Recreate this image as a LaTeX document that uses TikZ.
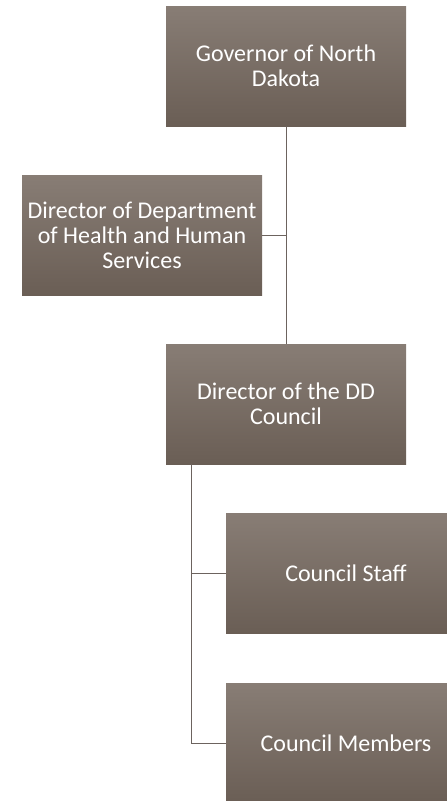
\documentclass[tikz,border=0pt]{standalone}
\usepackage{tikz}
\usepackage{fontspec}
\setmainfont{Carlito}
\usepackage{xcolor}
\definecolor{boxTop}{RGB}{136,125,117}
\definecolor{boxBottom}{RGB}{106,94,85}
\definecolor{linkGray}{RGB}{108,99,94}

\begin{document}
\begin{tikzpicture}[x=1pt, y=-1pt,
    box/.style={rectangle, minimum width=240pt, minimum height=120pt, inner sep=2pt,
        top color=boxTop, bottom color=boxBottom, text=white, align=center,
        font=\fontsize{24}{25}\selectfont},
    link/.style={draw=linkGray, line width=1pt}]
    \newcommand\colA{286}
    \newcommand\colB{346}
    
    \useasboundingbox (0,0) rectangle (447,801);

    \node[box] (gov) at (\colA,66) {Governor of North\\Dakota};
    \node[box] (dhhs) at (142,235) {Director of Department\\of Health and Human\\Services};
    \node[box] (ddc) at (\colA,404) {Director of the DD\\Council};
    \node[box] (staff) at (\colB,573.5) {Council Staff};
    \node[box] (members) at (\colB,743) {Council Members};
    
    % draw links
    \draw[link] (gov.south) -- (ddc.north);
    \draw[link] (dhhs.east) -- (dhhs.east -| gov.south);
    \coordinate (trunk) at (191,464);
    \draw[link] (trunk) |- (staff.west);
    \draw[link] (trunk) |- (members.west);
\end{tikzpicture}
\end{document}
